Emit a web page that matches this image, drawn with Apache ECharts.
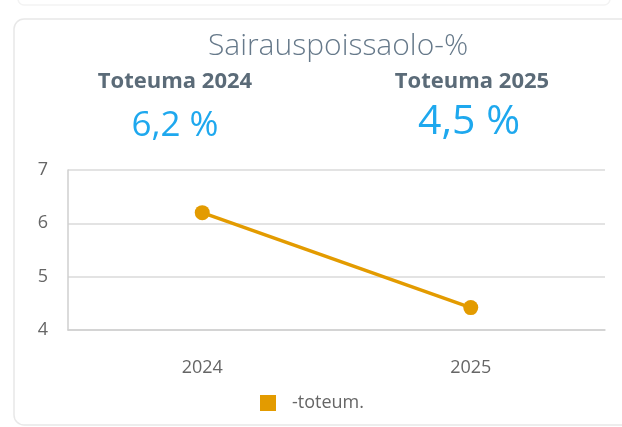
<!DOCTYPE html>
<html>
<head>
<meta charset="utf-8">
<script src="https://cdn.jsdelivr.net/npm/echarts@6/dist/echarts.min.js"></script>
<style>
html,body{margin:0;padding:0;background:#fff;}
#c{width:622px;height:427px;}
</style>
</head>
<body>
<div id="c"></div>
<script>
var chartTitle = 'Sairauspoissaolo-%';
var categories = ['2024', '2025'];
var seriesName = '-toteum.';
var values = [6.2, 4.42];
var kpiLabels = ['Toteuma 2024', 'Toteuma 2025'];
var kpiValues = ['6,2 %', '4,5 %'];
var yTicks = {min: 4, max: 7, interval: 1};

var FONT = '"Open Sans", "Noto Sans", sans-serif';
var chart = echarts.init(document.getElementById('c'));
chart.setOption({
  animation: false,
  backgroundColor: '#fff',
  graphic: [
    {type: 'rect', shape: {x: 18, y: -10, width: 592, height: 15, r: 6}, style: {fill: '#fff', stroke: '#f3f3f3', lineWidth: 1.5}, z: -10},
    {type: 'rect', shape: {x: 14, y: 19, width: 630, height: 406, r: 10}, style: {fill: '#fff', stroke: '#e8e8e8', lineWidth: 1.5}, z: -10}
  ],
  title: [
    {text: chartTitle, left: 333, top: 26, textAlign: 'center',
     textStyle: {fontFamily: FONT, fontWeight: 300, fontSize: 30, color: '#66798a'}},
    {text: kpiLabels[0], left: 170, top: 66, textAlign: 'center',
     textStyle: {fontFamily: FONT, fontWeight: 'bold', fontSize: 22, color: '#5b6b78'}},
    {text: kpiLabels[1], left: 467, top: 66, textAlign: 'center',
     textStyle: {fontFamily: FONT, fontWeight: 'bold', fontSize: 22, color: '#5b6b78'}},
    {text: kpiValues[0], left: 170, top: 104, textAlign: 'center',
     textStyle: {fontFamily: FONT, fontWeight: 'normal', fontSize: 35, color: '#1ea8ee'}},
    {text: kpiValues[1], left: 464, top: 97, textAlign: 'center',
     textStyle: {fontFamily: FONT, fontWeight: 'normal', fontSize: 41, color: '#1ea8ee'}}
  ],
  legend: {
    data: [seriesName], left: 255, top: 389, icon: 'rect', itemWidth: 16, itemHeight: 16,
    textStyle: {fontFamily: FONT, fontSize: 18, color: '#666', padding: [0, 0, 0, 11]}
  },
  grid: {left: 68, right: 17, top: 170, bottom: 97},
  xAxis: {
    type: 'category', data: categories, boundaryGap: true,
    axisLine: {show: true, lineStyle: {color: '#cfcfcf', width: 1.5}},
    axisTick: {show: false},
    axisLabel: {fontFamily: FONT, fontSize: 18, color: '#666', margin: 29}
  },
  yAxis: {
    type: 'value', min: yTicks.min, max: yTicks.max, interval: yTicks.interval,
    axisLine: {show: true, lineStyle: {color: '#cfcfcf', width: 1.5}},
    axisTick: {show: false},
    splitLine: {lineStyle: {color: '#dadada', width: 1.5}},
    axisLabel: {fontFamily: FONT, fontSize: 18, color: '#666', margin: 20}
  },
  series: [{
    name: seriesName, type: 'line', data: values,
    symbol: 'circle', symbolSize: 15,
    itemStyle: {color: '#e39b00'},
    lineStyle: {color: '#e39b00', width: 3.5}
  }]
});
</script>
</body>
</html>
